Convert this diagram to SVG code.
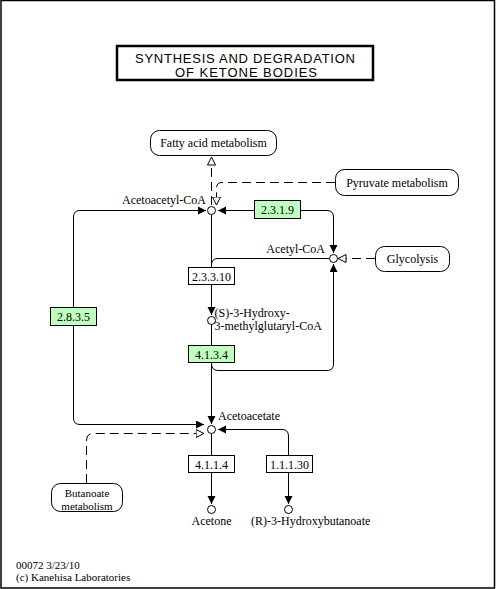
<svg xmlns="http://www.w3.org/2000/svg" width="496" height="589" viewBox="0 0 496 589">
<style>
text{font-family:"Liberation Serif","Times New Roman",serif;font-size:12px;fill:#000}
.title{font-family:"Liberation Sans",Arial,sans-serif;font-size:13px}
.sm{font-size:11px}
.ec{fill:#bfffbf;stroke:#000;stroke-width:1}
.ecw{fill:#fff;stroke:#000;stroke-width:1}
.map{fill:#fff;stroke:#000;stroke-width:1}
.cpd{fill:#fff;stroke:#000;stroke-width:1}
.ln{fill:none;stroke:#000;stroke-width:1}
.dl{fill:none;stroke:#000;stroke-width:1;stroke-dasharray:9,5}
.mid{text-anchor:middle}
.end{text-anchor:end}
</style>
<defs>
<marker id="af" markerUnits="userSpaceOnUse" markerWidth="10" markerHeight="10" refX="8" refY="4" orient="auto-start-reverse" viewBox="0 0 10 10">
<path d="M0,0 L8,4 L0,8 z" fill="#000"/>
</marker>
<marker id="ao" markerUnits="userSpaceOnUse" markerWidth="10" markerHeight="10" refX="8.5" refY="4.5" orient="auto-start-reverse" viewBox="0 0 10 10">
<path d="M0.5,0.5 L8.5,4.5 L0.5,8.5 z" fill="#fff" stroke="#000" stroke-width="1"/>
</marker>
</defs>
<rect x="1" y="0.5" width="493.5" height="587.5" fill="#fff" stroke="#000" stroke-width="1.5"/>
<g id="title">
<rect x="117" y="46" width="256" height="34" fill="#fff" stroke="#000" stroke-width="2.5"/>
<text class="title" x="135" y="62.5" textLength="220" lengthAdjust="spacing">SYNTHESIS AND DEGRADATION</text>
<text class="title" x="175" y="76.5" textLength="142" lengthAdjust="spacing">OF KETONE BODIES</text>
</g>
<g id="connectors">
<path class="dl" d="M211.5,205 V157" marker-end="url(#ao)"/>
<path class="dl" d="M335,182.5 H222 Q216.5,182.5 216.5,188 V205" marker-end="url(#ao)"/>
<path class="ln" d="M206,210.5 H80 Q73.5,210.5 73.5,217 V418 Q73.5,424.5 80,424.5 H204" marker-start="url(#af)" marker-end="url(#af)"/>
<path class="ln" d="M218,210.5 H327 Q333.5,210.5 333.5,217 V253" marker-start="url(#af)" marker-end="url(#af)"/>
<path class="ln" d="M329,258.5 H218 Q211.5,258.5 211.5,265"/>
<path class="ln" d="M211.5,214.5 V315"/>
<path class="ln" d="M211.5,306 V315" marker-end="url(#af)"/>
<path class="ln" d="M211.5,324.5 V424"/>
<path class="ln" d="M211.5,415 V424" marker-end="url(#af)"/>
<path class="ln" d="M211.5,363 Q211.5,370.5 218,370.5 H327 Q333.5,370.5 333.5,364 V264" marker-end="url(#af)"/>
<path class="dl" d="M375,258.5 H338" marker-end="url(#ao)"/>
<path class="dl" d="M86.5,483 V440 Q86.5,433.5 93,433.5 H204" marker-end="url(#ao)"/>
<path class="ln" d="M218,429.5 H282 Q288.5,429.5 288.5,436 V504" marker-start="url(#af)" marker-end="url(#af)"/>
<path class="ln" d="M211.5,434 V504" marker-end="url(#af)"/>
</g>
<g id="map-fatty-acid">
<rect class="map" x="150.5" y="130.5" width="126" height="25" rx="9"/>
<text class="mid" x="213.5" y="147">Fatty acid metabolism</text>
</g>
<g id="map-pyruvate">
<rect class="map" x="335.5" y="169.5" width="123" height="26" rx="9"/>
<text class="mid" x="397" y="186.5">Pyruvate metabolism</text>
</g>
<g id="map-glycolysis">
<rect class="map" x="375.5" y="246.5" width="74" height="25" rx="9"/>
<text class="mid" x="412.5" y="263">Glycolysis</text>
</g>
<g id="map-butanoate">
<rect class="map" x="51.5" y="483.5" width="71" height="28" rx="9"/>
<text class="mid sm" x="87" y="497">Butanoate</text>
<text class="mid sm" x="87" y="509.5">metabolism</text>
</g>
<g id="cpd-acetoacetyl-coa">
<circle class="cpd" cx="211.5" cy="210.5" r="4"/>
<text class="end" x="206" y="204">Acetoacetyl-CoA</text>
</g>
<g id="cpd-acetyl-coa">
<circle class="cpd" cx="333.5" cy="258.5" r="4"/>
<text class="end" x="325" y="253">Acetyl-CoA</text>
</g>
<g id="cpd-hmg-coa">
<circle class="cpd" cx="211.5" cy="320.5" r="4"/>
<text x="214.5" y="316.5">(S)-3-Hydroxy-</text>
<text x="214.5" y="329.5">3-methylglutaryl-CoA</text>
</g>
<g id="cpd-acetoacetate">
<circle class="cpd" cx="211.5" cy="429.5" r="4"/>
<text x="218" y="420">Acetoacetate</text>
</g>
<g id="cpd-acetone">
<circle class="cpd" cx="211.5" cy="509.5" r="4"/>
<text class="mid" x="211.5" y="525">Acetone</text>
</g>
<g id="cpd-hydroxybutanoate">
<circle class="cpd" cx="288.5" cy="509.5" r="4"/>
<text x="251" y="525">(R)-3-Hydroxybutanoate</text>
</g>
<g id="ec-2.3.1.9">
<rect class="ec" x="254.5" y="200.5" width="46" height="18"/>
<text class="mid" x="277.5" y="214">2.3.1.9</text>
</g>
<g id="ec-2.3.3.10">
<rect class="ecw" x="188.5" y="267.5" width="46" height="17"/>
<text class="mid" x="211.5" y="280.5">2.3.3.10</text>
</g>
<g id="ec-4.1.3.4">
<rect class="ec" x="188.5" y="345.5" width="46" height="17"/>
<text class="mid" x="211.5" y="358.5">4.1.3.4</text>
</g>
<g id="ec-2.8.3.5">
<rect class="ec" x="50.5" y="307.5" width="46" height="18"/>
<text class="mid" x="73.5" y="321">2.8.3.5</text>
</g>
<g id="ec-4.1.1.4">
<rect class="ecw" x="188.5" y="455.5" width="46" height="17"/>
<text class="mid" x="211.5" y="468.5">4.1.1.4</text>
</g>
<g id="ec-1.1.1.30">
<rect class="ecw" x="266.5" y="455.5" width="46" height="17"/>
<text class="mid" x="289.5" y="468.5">1.1.1.30</text>
</g>
<g id="footer">
<text class="sm" x="16" y="568.5">00072 3/23/10</text>
<text class="sm" x="16" y="581">(c) Kanehisa Laboratories</text>
</g>
</svg>
